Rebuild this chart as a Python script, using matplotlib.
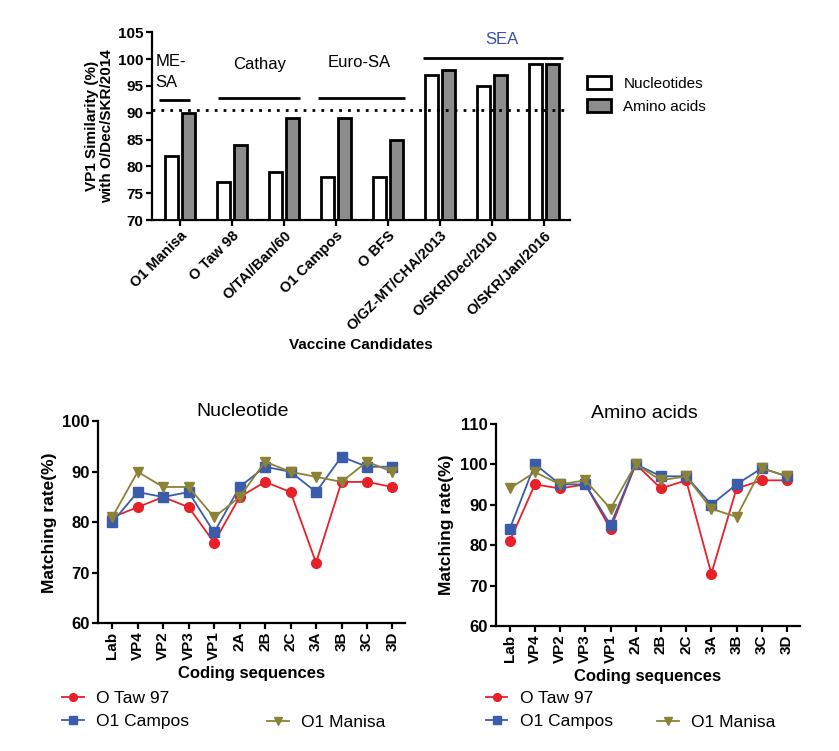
import matplotlib
matplotlib.use("Agg")
import matplotlib.pyplot as plt
from matplotlib.patches import Patch

plt.rcParams['font.family'] = ['Liberation Sans', 'DejaVu Sans']

# ---- data ----
candidates = ["O1 Manisa", "O Taw 98", "O/TAI/Ban/60", "O1 Campos", "O BFS",
              "O/GZ-MT/CHA/2013", "O/SKR/Dec/2010", "O/SKR/Jan/2016"]
nucleotides = [82, 77, 79, 78, 78, 97, 95, 99]
amino_acids = [90, 84, 89, 89, 85, 98, 97, 99]
threshold = 90.5
groups = ["ME-\nSA", "Cathay", "Euro-SA", "SEA"]
group_spans = [(-0.42, 0.19), (0.73, 2.31), (2.65, 4.33), (4.67, 7.37)]
group_line_y = [92.3, 92.8, 92.8, 100.3]

segments = ["Lab", "VP4", "VP2", "VP3", "VP1", "2A", "2B", "2C", "3A", "3B", "3C", "3D"]
nt_taw97 = [81, 83, 85, 83, 76, 85, 88, 86, 72, 88, 88, 87]
nt_campos = [80, 86, 85, 86, 78, 87, 91, 90, 86, 93, 91, 91]
nt_manisa = [81, 90, 87, 87, 81, 85, 92, 90, 89, 88, 92, 90]
aa_taw97 = [81, 95, 94, 95, 84, 100, 94, 96, 73, 94, 96, 96]
aa_campos = [84, 100, 95, 95, 85, 100, 97, 97, 90, 95, 99, 97]
aa_manisa = [94, 98, 95, 96, 89, 100, 96, 97, 89, 87, 99, 97]

RED = "#E8202A"
BLUE = "#3B5CAB"
OLIVE = "#8C8236"

fig = plt.figure(figsize=(8.39, 7.51), dpi=100)

# ---- top bar chart ----
ax = fig.add_axes([0.181, 0.707, 0.498, 0.250])
x = list(range(len(candidates)))
w = 0.25
ax.bar([i - 0.165 for i in x], [v - 70 for v in nucleotides], w, bottom=70,
       color="white", edgecolor="black", linewidth=2, label="Nucleotides", zorder=3)
ax.bar([i + 0.165 for i in x], [v - 70 for v in amino_acids], w, bottom=70,
       color="#8C8C8C", edgecolor="black", linewidth=2, label="Amino acids", zorder=3)
ax.set_xlim(-0.55, 7.5)
ax.set_ylim(70, 105)
ax.set_yticks([70, 75, 80, 85, 90, 95, 100, 105])
ax.axhline(threshold, color="black", linestyle=(0, (1, 2.2)), linewidth=2, zorder=4)
for (a, b), yy in zip(group_spans, group_line_y):
    ax.plot([a, b], [yy, yy], color="black", linewidth=2, solid_capstyle="butt", clip_on=False)
ax.text(-0.48, 100.9, groups[0], fontsize=12, ha="left", va="top", linespacing=1.45)
ax.text(1.52, 97.6, groups[1], fontsize=12, ha="center", va="bottom")
ax.text(3.45, 98.0, groups[2], fontsize=12, ha="center", va="bottom")
ax.text(6.2, 102.3, groups[3], fontsize=12, ha="center", va="bottom", color="#3B4FA8")
ax.set_xticks(x)
ax.set_xticklabels(candidates, rotation=45, ha="right", rotation_mode="anchor",
                   fontsize=10.5, fontweight="bold")
for lab in ax.get_yticklabels():
    lab.set_fontweight("bold")
    lab.set_fontsize(11)
ax.spines["top"].set_visible(False)
ax.spines["right"].set_visible(False)
for s in ["left", "bottom"]:
    ax.spines[s].set_linewidth(1.6)
ax.tick_params(width=1.6, length=4, pad=2)
ax.set_ylabel("VP1 Similarity (%)\nwith O/Dec/SKR/2014", fontsize=11, fontweight="bold",
              linespacing=1.1, labelpad=3)
ax.set_xlabel("Vaccine Candidates", fontsize=11, fontweight="bold", labelpad=3)
ax.legend(handles=[Patch(facecolor="white", edgecolor="black", linewidth=2, label="Nucleotides"),
                   Patch(facecolor="#8C8C8C", edgecolor="black", linewidth=2, label="Amino acids")],
          loc="center left", bbox_to_anchor=(1.041, 0.665), frameon=False, fontsize=11,
          handlelength=1.6, handleheight=0.9, handletextpad=0.8, labelspacing=0.55,
          borderpad=0, borderaxespad=0)


def line_panel(rect, title, title_x, ylim, yticks, taw, campos, manisa, legx1, legx2):
    a = fig.add_axes(rect)
    xs = list(range(len(segments)))
    a.plot(xs, taw, color=RED, marker="o", markersize=7, linewidth=1.3, label="O Taw 97", zorder=3)
    a.plot(xs, campos, color=BLUE, marker="s", markersize=6.5, linewidth=1.3, label="O1 Campos", zorder=4)
    a.plot(xs, manisa, color=OLIVE, marker="v", markersize=7, linewidth=1.3, label="O1 Manisa", zorder=5)
    a.set_xlim(-0.55, 11.5)
    a.set_ylim(*ylim)
    a.set_yticks(yticks)
    a.set_xticks(xs)
    a.set_xticklabels(segments, rotation=90, fontsize=11, fontweight="bold")
    for lab in a.get_yticklabels():
        lab.set_fontweight("bold")
        lab.set_fontsize(12)
    a.spines["top"].set_visible(False)
    a.spines["right"].set_visible(False)
    for s in ["left", "bottom"]:
        a.spines[s].set_linewidth(1.6)
    a.tick_params(width=1.6, length=4, pad=2)
    a.set_title(title, fontsize=14, pad=4, x=title_x)
    a.set_ylabel("Matching rate(%)", fontsize=12.5, fontweight="bold", labelpad=4)
    a.set_xlabel("Coding sequences", fontsize=12, fontweight="bold", labelpad=4)
    h = a.get_legend_handles_labels()[0]
    kw = dict(frameon=False, fontsize=12.5, handlelength=1.25, handletextpad=0.7,
              borderpad=0, borderaxespad=0, markerscale=0.8)
    fig.legend(handles=h[:2], loc="center left", bbox_to_anchor=(legx1, 0.0546),
               labelspacing=0.5, **kw)
    fig.legend(handles=h[2:], loc="center left", bbox_to_anchor=(legx2, 0.0386), **kw)
    return a


line_panel([0.117, 0.170, 0.366, 0.269], "Nucleotide", 0.47, (60, 100), [60, 70, 80, 90, 100],
           nt_taw97, nt_campos, nt_manisa, 0.0739, 0.318)
line_panel([0.591, 0.166, 0.362, 0.270], "Amino acids", 0.49, (60, 110), [60, 70, 80, 90, 100, 110],
           aa_taw97, aa_campos, aa_manisa, 0.579, 0.783)

fig.savefig("out.png", dpi=100)
